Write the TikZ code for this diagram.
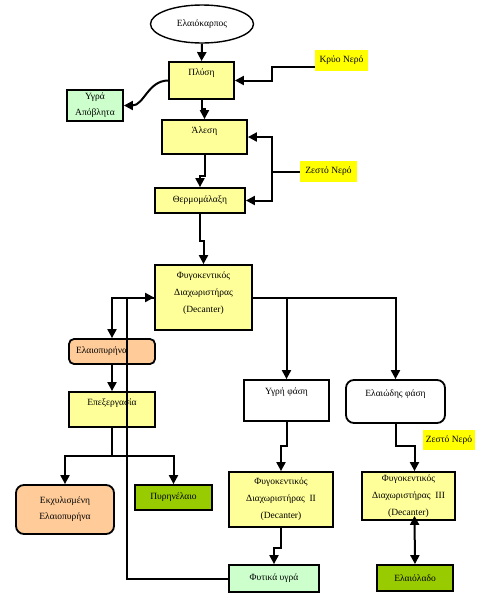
\documentclass[tikz,border=0pt]{standalone}
\usepackage{fontspec}
\setmainfont{Liberation Serif}
\usetikzlibrary{arrows.meta,shapes.geometric,calc}
\definecolor{olvyellow}{HTML}{FFFF99}
\definecolor{olvlabel}{HTML}{FFFF00}
\definecolor{olvpeach}{HTML}{FFCC99}
\definecolor{olvgreen}{HTML}{99CC00}
\definecolor{olvmint}{HTML}{CCFFCC}
\definecolor{olvink}{HTML}{000000}
\tikzset{
  box/.style={draw=olvink, line width=1.8pt, align=center, font=\fontsize{9.5}{17}\selectfont, inner sep=2pt},
  proc/.style={box, fill=olvyellow},
  prod/.style={box, fill=olvgreen},
  resid/.style={box, fill=olvpeach, rounded corners=5pt},
  phase/.style={box, fill=white},
  water/.style={fill=olvlabel, font=\fontsize{9.5}{10}\selectfont, inner sep=0pt},
  topt/.style={text height=6pt, text depth=#1},
  arr/.style={-{Triangle[length=9pt,width=9pt]}, line width=2pt, color=olvink},
  dblarr/.style={{Triangle[length=9pt,width=9pt]}-{Triangle[length=9pt,width=9pt]}, line width=2pt, color=olvink},
}
\begin{document}
\begin{tikzpicture}[x=1pt,y=-1pt]
  \useasboundingbox (0,0) rectangle (484,606);
  \node[ellipse, draw=olvink, line width=1.4pt, minimum width=103, minimum height=38, font=\fontsize{9.5}{10}\selectfont] (elaio) at (202,24) {Ελαιόκαρπος};
  \node[proc, topt=17pt, minimum width=65, minimum height=37] (plysi) at (201.5,80.5) {Πλύση};
  \node[box, fill=olvmint, minimum width=56, minimum height=31, font=\fontsize{9.5}{16}\selectfont] (ygra) at (95,105.5) {Υγρά\\Απόβλητα};
  \node[proc, topt=14pt, minimum width=85, minimum height=34] (alesi) at (204.5,137) {Άλεση};
  \node[water, minimum width=53, minimum height=21] (krio) at (341.5,60.5) {Κρύο Νερό};
  \node[water, minimum width=57, minimum height=21] (zesto) at (328.5,171.5) {Ζεστό Νερό};
  \node[proc, minimum width=90, minimum height=25] (thermo) at (200,200.5) {Θερμομάλαξη};
  \node[proc, minimum width=97, minimum height=65] (dec1) at (203.5,297.5) {Φυγοκεντικός\\Διαχωριστήρας\\(Decanter)\\[-6pt]};
  \node[resid, text width=72pt, align=left, minimum width=86, minimum height=25] (elaiop) at (112,351.5) {Ελαιοπυρήνα};
  \node[proc, topt=15pt, minimum width=86, minimum height=35] (epex) at (112,409.5) {Επεξεργασία};
  \node[resid, rounded corners=8pt, minimum width=98, minimum height=49, font=\fontsize{9.5}{16}\selectfont] (ekx) at (65,509.5) {Εκχυλισμένη\\Ελαιοπυρήνα};
  \node[prod, minimum width=77, minimum height=25] (pyrin) at (173.5,497.5) {Πυρηνέλαιο};
  \node[phase, topt=19pt, minimum width=85, minimum height=41] (ygri) at (286.5,400.5) {Υγρή φάση};
  \node[phase, topt=17pt, rounded corners=8pt, minimum width=99, minimum height=43] (elaiod) at (395.5,401.5) {Ελαιώδης φάση};
  \node[proc, minimum width=104, minimum height=55] (dec2) at (281,499.5) {Φυγοκεντικός\\Διαχωριστήρας~~II\\(Decanter)};
  \node[proc, minimum width=93, minimum height=48] (dec3) at (408.5,496) {Φυγοκεντικός\\Διαχωριστήρας~~III\\(Decanter)};
  \node[water, minimum width=52, minimum height=20] (zesto2) at (449,440) {Ζεστό Νερό};
  \node[prod, minimum width=76, minimum height=26] (elaiolado) at (415,578) {Ελαιόλαδο};
  \node[box, fill=olvmint, minimum width=90, minimum height=27] (fytika) at (274,578.5) {Φυτικά υγρά};

  \draw[arr] (elaio.south) -- (plysi.north);
  \draw[arr] (plysi.south) -- ++(0,9) -| (alesi.north);
  \draw[arr] (alesi.south) -- ++(0,21) -| (thermo.north);
  \draw[arr] (thermo.south) -- ++(0,27) -| (dec1.north);
  \draw[arr] ($(krio.west)+(0,6)$) -- ++(-43,0) |- (plysi.east);
  \draw[arr] (zesto.west) -- ++(-28,0) |- (alesi.east);
  \draw[arr] (zesto.west) -- ++(-28,0) |- (thermo.east);
  \draw[arr] (plysi.west) to[out=180,in=0] (ygra.east);
  \draw[arr] (dec1.east) -| (ygri.north);
  \draw[arr] (dec1.east) -| (elaiod.north);
  \draw[arr] (dec1.west) -| (elaiop.north);
  \draw[arr] (fytika.west) -- ++(-101,0) |- (dec1.west);
  \draw[arr] (elaiop) -- (epex);
  \draw[arr] (epex.south) -- ++(0,28) -| (ekx.north);
  \draw[arr] (epex.south) -- ++(0,28) -| (pyrin.north);
  \draw[arr] (ygri.south) -- ++(0,24) -| (dec2.north);
  \draw[arr] (dec2.south) -- ++(0,20) -| (fytika.north);
  \coordinate (d3in) at ($(dec3.north)+(6,0)$);
  \coordinate (d3out) at ($(dec3.south)+(6,-5)$);
  \draw[arr] (elaiod.south) -- ++(0,22) -| (d3in);
  \draw[dblarr] (d3out) -- (elaiolado.north);
\end{tikzpicture}
\end{document}
